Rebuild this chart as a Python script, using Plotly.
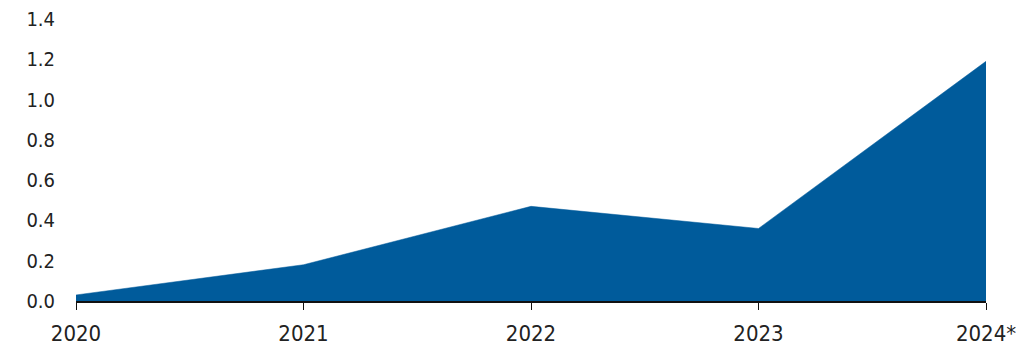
import plotly.graph_objects as go

years = ["2020", "2021", "2022", "2023", "2024*"]
values = [0.03, 0.18, 0.47, 0.36, 1.19]
y_ticks = [0.0, 0.2, 0.4, 0.6, 0.8, 1.0, 1.2, 1.4]

x_pos = list(range(len(years)))
fig = go.Figure()
fig.add_trace(go.Scatter(
    x=x_pos, y=values, mode="lines", fill="tozeroy",
    line=dict(color="#005B9B", width=0.5), fillcolor="#005B9B",
    hoverinfo="skip", showlegend=False,
))

family = "DejaVu Sans Condensed, DejaVu Sans, sans-serif"
fig.update_layout(
    width=1031, height=345,
    margin=dict(l=76, r=45, t=19, b=44, autoexpand=False),
    plot_bgcolor="white", paper_bgcolor="white",
    font=dict(family=family, size=20, color="#222222"),
    xaxis=dict(
        range=[0, len(years) - 1], tickvals=x_pos, ticktext=years,
        showgrid=False, zeroline=False, showline=True, linecolor="#111111", linewidth=1.5,
        ticks="outside", ticklen=7, tickcolor="#111111", tickwidth=1.2,
        automargin=False, ticklabelstandoff=5,
        tickfont=dict(family=family, size=22, color="#222222"),
    ),
    yaxis=dict(
        range=[0, 1.4], tickvals=y_ticks, ticktext=[f"{v:.1f}" for v in y_ticks],
        showgrid=False, zeroline=False, showline=False, ticks="",
        ticklabelstandoff=20, automargin=False,
    ),
)
fig.write_html("out.html")
